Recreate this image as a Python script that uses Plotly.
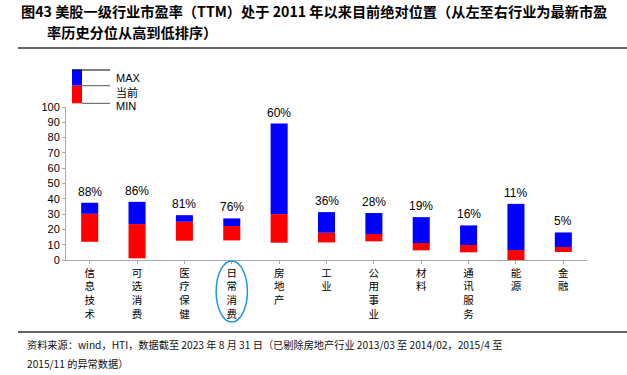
import plotly.graph_objects as go

categories = ["信息技术", "可选消费", "医疗保健", "日常消费", "房地产", "工业",
              "公用事业", "材料", "通讯服务", "能源", "金融"]
pe_max = [37.4, 38.0, 29.3, 27.2, 89.2, 31.3, 30.7, 28.0, 22.6, 36.7, 18.0]
pe_cur = [30.2, 23.5, 25.0, 22.2, 30.0, 17.8, 17.0, 11.1, 9.8, 6.5, 8.5]
pe_min = [11.9, 1.1, 12.6, 12.8, 11.3, 11.5, 12.2, 6.3, 5.0, 0.0, 5.2]
pct_labels = ["88%", "86%", "81%", "76%", "60%", "36%", "28%", "19%", "16%", "11%", "5%"]
y_ticks = list(range(0, 101, 10))

W, H = 627, 375
L, R, T, B = 66, 587, 107, 260


def px(x):
    return (x - L) / (R - L)


def py(y):
    return (B - y) / (B - T)


idx = list(range(len(categories)))
red_h = [c - m for c, m in zip(pe_cur, pe_min)]
blue_h = [mx - c for mx, c in zip(pe_max, pe_cur)]

fig = go.Figure()
fig.add_trace(go.Bar(x=idx, y=red_h, base=pe_min, marker_color="#FF0000",
                     marker_line_width=0, width=0.36, hoverinfo="skip"))
fig.add_trace(go.Bar(x=idx, y=blue_h, base=pe_cur, marker_color="#0000FF",
                     marker_line_width=0, width=0.36, hoverinfo="skip"))

annotations = []
for i, (mx, lab) in enumerate(zip(pe_max, pct_labels)):
    annotations.append(dict(x=i, y=mx, xref="x", yref="y", text=lab, showarrow=False,
                            yanchor="middle", yshift=11,
                            font=dict(family="Liberation Sans, Arial", size=12, color="#000")))

title1 = "图43 美股一级行业市盈率（TTM）处于 2011 年以来目前绝对位置（从左至右行业为最新市盈"
title2 = "率历史分位从高到低排序）"
tfont = dict(family="Noto Sans CJK SC", size=14.2, color="#000")
annotations.append(dict(x=px(19), y=py(11), xref="paper", yref="paper", text="<b>" + title1 + "</b>",
                        showarrow=False, xanchor="left", yanchor="middle", font=tfont))
annotations.append(dict(x=px(45), y=py(32), xref="paper", yref="paper", text="<b>" + title2 + "</b>",
                        showarrow=False, xanchor="left", yanchor="middle", font=tfont))

foot1 = "资料来源：wind，HTI，数据截至 2023 年 8 月 31 日（已剔除房地产行业 2013/03 至 2014/02，2015/4 至"
foot2 = "2015/11 的异常数据）"
ffont = dict(family="Noto Sans CJK SC", size=10.2, color="#111")
annotations.append(dict(x=px(25), y=py(344), xref="paper", yref="paper", text=foot1,
                        showarrow=False, xanchor="left", yanchor="middle", font=ffont))
annotations.append(dict(x=px(25), y=py(363), xref="paper", yref="paper", text=foot2,
                        showarrow=False, xanchor="left", yanchor="middle", font=ffont))

for txt, yy in [("MAX", 77.5), ("当前", 92), ("MIN", 106)]:
    annotations.append(dict(x=px(114), y=py(yy), xref="paper", yref="paper", text=txt,
                            showarrow=False, xanchor="left", yanchor="middle",
                            font=dict(family="Noto Sans CJK SC" if txt == "当前" else "Liberation Sans, Arial",
                                      size=11, color="#000")))

shapes = [
    dict(type="line", xref="paper", yref="paper", x0=px(18), x1=px(627), y0=py(48), y1=py(48),
         line=dict(color="#333", width=1.5)),
    dict(type="line", xref="paper", yref="paper", x0=px(18), x1=px(627), y0=py(332), y1=py(332),
         line=dict(color="#333", width=1.5)),
    dict(type="rect", xref="paper", yref="paper", x0=px(72), x1=px(82), y0=py(69.5), y1=py(85.7),
         fillcolor="#0000FF", line_width=0),
    dict(type="rect", xref="paper", yref="paper", x0=px(72), x1=px(82), y0=py(85.7), y1=py(103.3),
         fillcolor="#FF0000", line_width=0),
    dict(type="line", xref="paper", yref="paper", x0=px(72), x1=px(110), y0=py(70), y1=py(70),
         line=dict(color="#000", width=1)),
    dict(type="line", xref="paper", yref="paper", x0=px(82), x1=px(110), y0=py(85.7), y1=py(85.7),
         line=dict(color="#555", width=1)),
    dict(type="line", xref="paper", yref="paper", x0=px(82), x1=px(110), y0=py(103.3), y1=py(103.3),
         line=dict(color="#555", width=1)),
    dict(type="circle", xref="x", yref="paper", x0=3 - 0.33, x1=3 + 0.33, y0=py(322), y1=py(261),
         line=dict(color="#1E9BD7", width=1.5)),
]

fig.update_layout(
    width=W, height=H,
    margin=dict(l=L, r=W - R, t=T, b=H - B, pad=0),
    paper_bgcolor="white", plot_bgcolor="white",
    barmode="overlay", bargap=0.64, showlegend=False,
    annotations=annotations, shapes=shapes,
    xaxis=dict(tickmode="array", tickvals=idx,
               ticktext=["<br>".join(list(c)) for c in categories],
               range=[-0.5, len(categories) - 0.5],
               showline=True, linecolor="#AAAAAA", linewidth=1,
               ticks="outside", tickson="boundaries", ticklen=3, tickcolor="#AAAAAA",
               showgrid=False, zeroline=False,
               tickfont=dict(family="Noto Sans CJK SC", size=10.5, color="#000")),
    yaxis=dict(range=[0, 100], tickvals=y_ticks, showline=True, linecolor="#AAAAAA", linewidth=1,
               ticks="outside", ticklen=3, tickcolor="#AAAAAA", showgrid=False, zeroline=False,
               tickfont=dict(family="Liberation Sans, Arial", size=11, color="#000")),
)

fig.write_html("out.html", config={"displayModeBar": False},
               post_script="document.body.style.margin='0';")
